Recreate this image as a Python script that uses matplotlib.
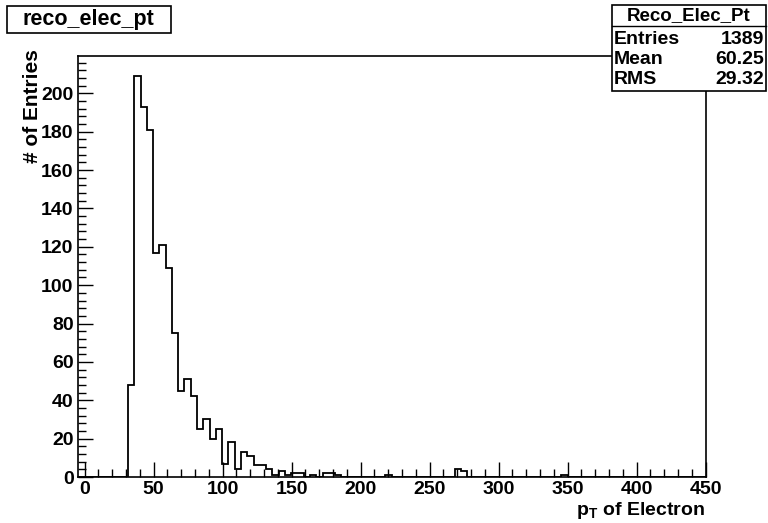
import numpy as np
import matplotlib
matplotlib.use("Agg")
import matplotlib.pyplot as plt
from matplotlib.patches import Rectangle
from matplotlib.ticker import MultipleLocator

plt.rcParams['font.family'] = ['Liberation Sans', 'DejaVu Sans']
plt.rcParams['font.weight'] = 'bold'
plt.rcParams['mathtext.fontset'] = 'custom'
plt.rcParams['mathtext.bf'] = 'Liberation Sans:bold'
plt.rcParams['mathtext.rm'] = 'Liberation Sans:bold'

# histogram: 100 bins from -5 to 450
x_min = -5.0
x_max = 450.0
n_bins = 100

# bin index -> count (all other bins empty)
filled_bins = [8, 9, 10, 11, 12, 13, 14, 15, 16, 17, 18, 19, 20, 21, 22, 23,
               24, 25, 26, 27, 28, 29, 30, 31, 32, 33, 34, 35, 37, 39, 40, 41,
               49, 60, 61, 77]
counts = [48, 209, 193, 181, 117, 121, 109, 75, 45, 51, 42, 25, 30, 20, 25, 7,
          18, 4, 13, 11, 6, 6, 4, 1, 3, 1, 2, 2, 1, 2, 2, 1,
          1, 4, 3, 1]

hist_title = "reco_elec_pt"
stats_name = "Reco_Elec_Pt"
stats_rows = [("Entries", "1389"), ("Mean", "60.25"), ("RMS", "29.32")]
x_label = r"$\mathbf{p_T}$ of Electron"
y_label = "# of Entries"

values = np.zeros(n_bins)
values[filled_bins] = counts
edges = np.linspace(x_min, x_max, n_bins + 1)

W, H = 768, 523
fig = plt.figure(figsize=(W / 100, H / 100), dpi=100)
ax = fig.add_axes([77.7 / W, 1 - 477 / H, (705.7 - 77.7) / W, (477 - 56) / H])

ax.stairs(values, edges, color='black', lw=1.3, baseline=0)
ax.set_xlim(x_min, x_max)
ax.set_ylim(0, values.max() * 1.05)

ax.xaxis.set_major_locator(MultipleLocator(50))
ax.xaxis.set_minor_locator(MultipleLocator(10))
ax.yaxis.set_major_locator(MultipleLocator(20))
ax.yaxis.set_minor_locator(MultipleLocator(4))
ax.tick_params(which='both', direction='in', top=False, right=False,
               width=1, labelsize=14)
ax.tick_params(which='major', length=11)
ax.tick_params(axis='x', which='major', pad=3)
ax.tick_params(axis='y', which='major', pad=3)
ax.tick_params(which='minor', length=6)
for lab in ax.get_xticklabels() + ax.get_yticklabels():
    lab.set_fontweight('bold')
for sp in ax.spines.values():
    sp.set_linewidth(1.2)

fig.text(33 / W, 1 - 49 / H, y_label, rotation=90, ha='center', va='top',
         fontsize=15, fontweight='bold')
fig.text(705 / W, 1 - 515 / H, x_label, ha='right', va='baseline',
         fontsize=14, fontweight='bold')

# title box
fig.add_artist(Rectangle((7.3 / W, 1 - 33.3 / H), (170.7 - 7.3) / W, (33.3 - 6) / H,
                         transform=fig.transFigure, facecolor='white',
                         edgecolor='black', lw=1.2))
fig.text(88 / W, 1 - 19.5 / H, hist_title, ha='center', va='center',
         fontsize=15.5, fontweight='bold')

# stats box
bx0, bx1, by0, by1 = 611.7, 766, 5, 90.7
fig.add_artist(Rectangle((bx0 / W, 1 - by1 / H), (bx1 - bx0) / W, (by1 - by0) / H,
                         transform=fig.transFigure, facecolor='white',
                         edgecolor='black', lw=1.2, zorder=5))
fig.add_artist(plt.Line2D([bx0 / W, bx1 / W], [1 - 26 / H, 1 - 26 / H],
                          transform=fig.transFigure, color='black', lw=1.0, zorder=6))
fig.text((bx0 + bx1) / 2 / W, 1 - 15.5 / H, stats_name, ha='center', va='center',
         fontsize=13.5, fontweight='bold', zorder=7)
row_y = [39.5, 60, 79.5]
for (name, val), yy in zip(stats_rows, row_y):
    fig.text(614 / W, 1 - yy / H, name, ha='left', va='center',
             fontsize=14, fontweight='bold', zorder=7)
    fig.text(764 / W, 1 - yy / H, val, ha='right', va='center',
             fontsize=14, fontweight='bold', zorder=7)

fig.savefig("out.png", dpi=100)
